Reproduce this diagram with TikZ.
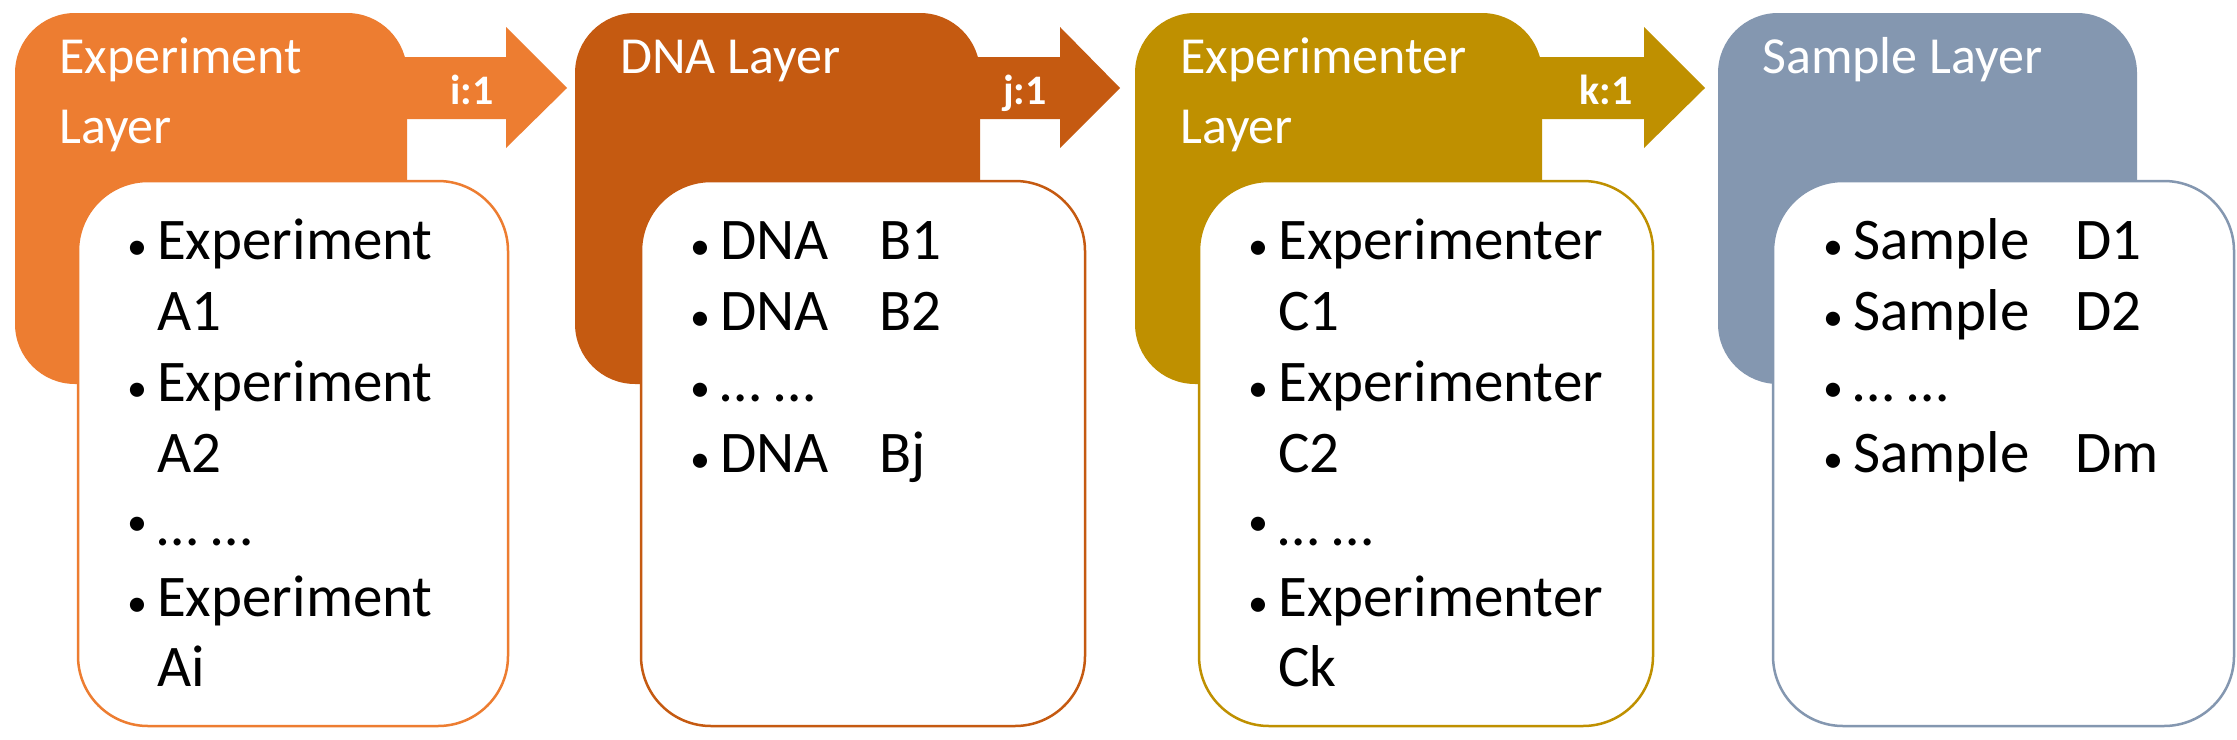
\documentclass[tikz,border=0pt]{standalone}
\usepackage{fontspec}
\setmainfont{Carlito}
\definecolor{c1}{HTML}{ED7D31}
\definecolor{c2}{HTML}{C55A11}
\definecolor{c3}{HTML}{BF9000}
\definecolor{c4}{HTML}{8497B0}
\begin{document}
\begin{tikzpicture}[x=1pt,y=-1pt,
  hdr/.style={anchor=base west,text=white,font=\fontsize{52}{52}\selectfont,inner sep=0},
  body/.style={anchor=base west,text=black,font=\fontsize{59}{59}\selectfont,inner sep=0},
  bul/.style={anchor=base west,text=black,font=\fontsize{40}{40}\selectfont,inner sep=0},
  lab/.style={anchor=base east,text=white,font=\bfseries\fontsize{42}{42}\selectfont,inner sep=0}]
\useasboundingbox[fill=white] (0,0) rectangle (2237,739);
\newcommand{\arrowshape}[5]{% x0, hb, tip, color, name
  \fill[#4] (#1,57) -- (#2,57) -- (#2,27) -- (#3,88) -- (#2,148) -- (#2,119) -- (#1,119) -- cycle;
  \coordinate (#5) at (#3,88);}
\newcommand{\whitebox}[3]{%
  \draw[#3,line width=2.5pt,fill=white,rounded corners=70] (#1,181) rectangle (#2,726);}
% column 1
\fill[c1,rounded corners=60] (15,13) rectangle (407,384);
\arrowshape{400}{506}{567}{c1}{a1}
\whitebox{78}{508}{c1}
% column 2
\fill[c2,rounded corners=60] (575,13) rectangle (980,384);
\arrowshape{975}{1060}{1120}{c2}{a2}
\whitebox{641}{1085}{c2}
% column 3
\fill[c3,rounded corners=60] (1135,13) rectangle (1542,384);
\arrowshape{1535}{1644}{1705}{c3}{a3}
\whitebox{1199}{1653}{c3}
% column 4
\fill[c4,rounded corners=60] (1718,13) rectangle (2137,384);
\whitebox{1773}{2234}{c4}
% headers
\node[hdr] (h1a) at (59,73) {Experiment};
\node[hdr] (h1b) at (59,143) {Layer};
\node[hdr] (h2) at (620,73) {DNA Layer};
\node[hdr] (h3a) at (1180,73) {Experimenter};
\node[hdr] (h3b) at (1180,143) {Layer};
\node[hdr] (h4) at (1762,73) {Sample Layer};
% labels
\node[lab] (l1) at (494,104) {i:1};
\node[lab] (l2) at (1047,104) {j:1};
\node[lab] (l3) at (1633,104) {k:1};
% body col1
\foreach \y [count=\i] in {259,401,535,616}
  \node[bul] (b1\i) at (127,\y) {\textbullet};
\node[body] (t11) at (157,259) {Experiment};
\node[body] (t12) at (157,330) {A1};
\node[body] (t13) at (157,401) {Experiment};
\node[body] (t14) at (157,472) {A2};
\node[body] (t15) at (157,545) {\ldots{} \ldots};
\node[body] (t16) at (157,616) {Experiment};
\node[body] (t17) at (157,686) {Ai};
% body col2
\foreach \y [count=\i] in {259,330,401,472}
  \node[bul] (b2\i) at (690,\y) {\textbullet};
\node[body] (t21) at (720,259) {DNA};
\node[body] (u21) at (879,259) {B1};
\node[body] (t22) at (720,330) {DNA};
\node[body] (u22) at (879,330) {B2};
\node[body] (t23) at (720,401) {\ldots{} \ldots};
\node[body] (t24) at (720,472) {DNA};
\node[body] (u24) at (879,472) {Bj};
% body col3
\foreach \y [count=\i] in {259,401,535,616}
  \node[bul] (b3\i) at (1248,\y) {\textbullet};
\node[body] (t31) at (1278,259) {Experimenter};
\node[body] (t32) at (1278,330) {C1};
\node[body] (t33) at (1278,401) {Experimenter};
\node[body] (t34) at (1278,472) {C2};
\node[body] (t35) at (1278,545) {\ldots{} \ldots};
\node[body] (t36) at (1278,616) {Experimenter};
\node[body] (t37) at (1278,686) {Ck};
% body col4
\foreach \y [count=\i] in {259,330,401,472}
  \node[bul] (b4\i) at (1823,\y) {\textbullet};
\node[body] (t41) at (1853,259) {Sample};
\node[body] (u41) at (2075,259) {D1};
\node[body] (t42) at (1853,330) {Sample};
\node[body] (u42) at (2075,330) {D2};
\node[body] (t43) at (1853,401) {\ldots{} \ldots};
\node[body] (t44) at (1853,472) {Sample};
\node[body] (u44) at (2075,472) {Dm};
\end{tikzpicture}
\end{document}
